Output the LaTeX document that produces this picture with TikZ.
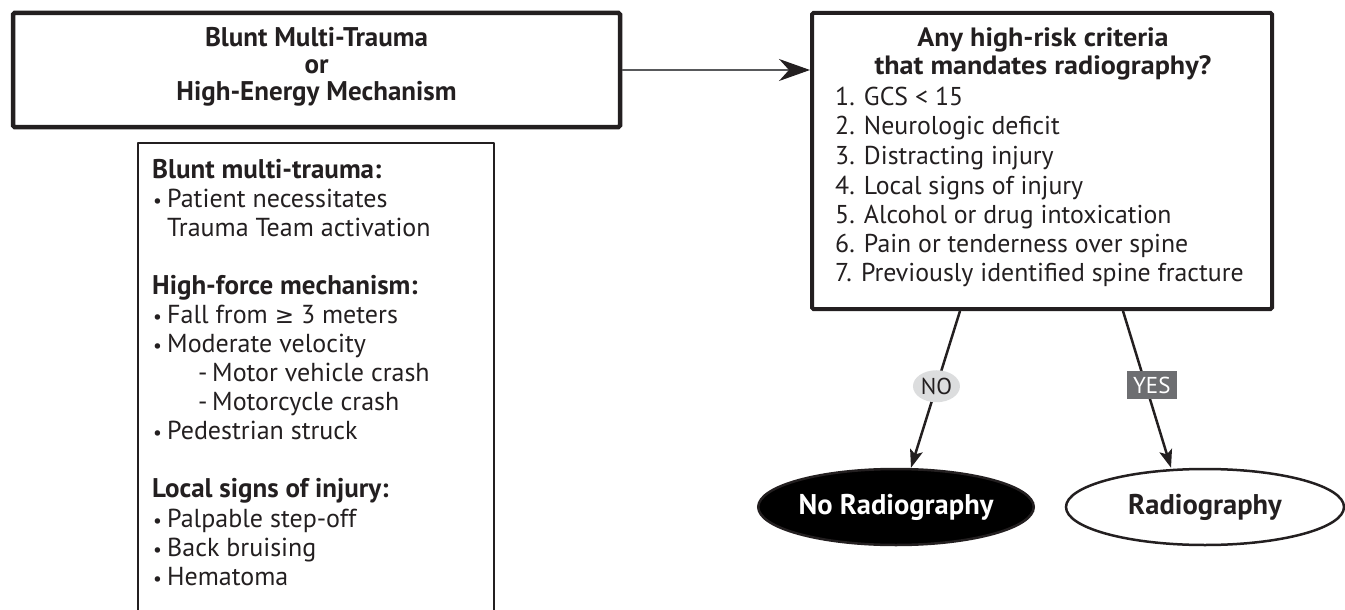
\documentclass[tikz,border=0pt]{standalone}
\usepackage{fontspec}
\setmainfont{PT Sans}
\newfontfamily\wideb[FakeStretch=1.06]{PT Sans}
\newfontfamily\symf{DejaVu Sans}
\usetikzlibrary{arrows.meta,shapes.geometric}
\definecolor{ink}{HTML}{231F20}
\definecolor{lgray}{HTML}{DCDDDE}
\definecolor{dgray}{HTML}{6D6E71}
\definecolor{agray}{HTML}{58595B}
\newcommand\bul{\makebox[15pt][l]{\hspace{1pt}\scalebox{0.75}{\textbullet}}}
\newcommand\dsh{\makebox[14pt][l]{-}}
\tikzset{
  bigbox/.style={draw=ink, line width=4.5pt, rounded corners=1.5pt, inner sep=0pt, rectangle},
  txt/.style={inner sep=0pt, text=ink, anchor=base west, font=\fontsize{26}{29}\selectfont},
  hdr/.style={txt, font=\bfseries\fontsize{27}{29}\selectfont},
  ttl/.style={inner sep=0pt, text=ink, anchor=base, font=\wideb\bfseries\fontsize{26.5}{29}\selectfont},
  lst/.style={txt, font=\fontsize{25.8}{29}\selectfont},
  sttl/.style={inner sep=0pt, text=ink, anchor=base, font=\bfseries\fontsize{27}{29}\selectfont},
  endnode/.style={ellipse, draw=ink, line width=2.5pt, inner sep=0pt, minimum height=76pt, font=\bfseries\fontsize{28.5}{30}\selectfont},
  decarrow/.style={draw=ink, line width=2.5pt, -{Stealth[length=18pt, width=13pt, inset=4pt]}},
}
\begin{document}
\begin{tikzpicture}[x=1pt, y=-1pt]
\useasboundingbox (0,0) rectangle (1345,610);

% top-left box
\node[bigbox, minimum width=607pt, minimum height=114pt] (start) at (316.5,70) {};
\node[sttl] (s1) at (316.5,47) {Blunt Multi-Trauma};
\node[sttl] (s2) at (316.5,74) {or};
\node[sttl] (s3) at (316.5,101) {High-Energy Mechanism};

% criteria box (open at the bottom)
\coordinate (cbl) at (138,615);
\coordinate (cbr) at (494,615);
\draw[ink, line width=2.3pt, line join=round] (cbl) |- (316,143) -| (cbr);
\node[hdr] (c1) at (152,178) {Blunt multi-trauma:};
\node[txt] (c2) at (152,207) {\bul Patient necessitates};
\node[txt] (c3) at (167,236) {Trauma Team activation};
\node[hdr] (c4) at (152,294) {High-force mechanism:};
\node[txt] (c5) at (152,323) {\bul Fall from {\symf\fontsize{23}{29}\selectfont ≥} 3 meters};
\node[txt] (c6) at (152,352) {\bul Moderate velocity};
\node[txt] (c7) at (198,381) {\dsh Motor vehicle crash};
\node[txt] (c8) at (198,410) {\dsh Motorcycle crash};
\node[txt] (c9) at (152,439) {\bul Pedestrian struck};
\node[hdr] (c10) at (152,497) {Local signs of injury:};
\node[txt] (c11) at (152,527) {\bul Palpable step-off};
\node[txt] (c12) at (152,556) {\bul Back bruising};
\node[txt] (c13) at (152,585) {\bul Hematoma};

% question box
\node[bigbox, line width=4pt, minimum width=460pt, minimum height=296pt] (q) at (1042,161) {};
\node[ttl] (q1) at (1043,47) {Any high-risk criteria};
\node[ttl] (q2) at (1043,75) {that mandates radiography?};
\node[lst] (l1) at (835,106) {1. GCS < 15};
\node[lst] (l2) at (835,135) {2. Neurologic deficit};
\node[lst] (l3) at (835,164) {3. Distracting injury};
\node[lst] (l4) at (835,194) {4. Local signs of injury};
\node[lst] (l5) at (835,223) {5. Alcohol or drug intoxication};
\node[lst] (l6) at (835,252) {6. Pain or tenderness over spine};
\node[lst] (l7) at (835,281) {7. Previously identified spine fracture};

% outcomes
\node[endnode, fill=black, text=white, minimum width=242pt] (no) at (896,507) {No Radiography};
\node[endnode, fill=white, text=ink, minimum width=278pt] (rad) at (1205,507) {Radiography};

% connectors
\draw[agray, line width=1.3pt, -{Stealth[length=31pt, width=22pt, inset=10pt, color=ink]}] (start.east) -- (start.east -| q.west);
\draw[decarrow] ([xshift=-82pt]q.south) -- node[pos=0.48, ellipse, fill=lgray, inner sep=0pt, minimum width=47pt, minimum height=32pt, text=ink, font=\fontsize{23}{24}\selectfont] (nolab) {NO} ([xshift=15pt]no.north);
\draw[decarrow] ([xshift=81pt]q.south) -- node[pos=0.475, xshift=6pt, fill=dgray, inner sep=0pt, minimum width=50pt, minimum height=28pt, text=white, font=\fontsize{23}{24}\selectfont] (yeslab) {YES} ([xshift=-34pt]rad.north);
\end{tikzpicture}
\end{document}
